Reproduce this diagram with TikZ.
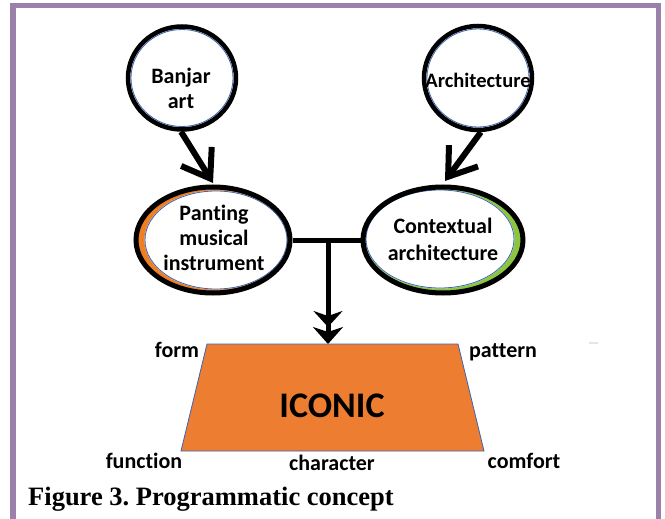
\documentclass[tikz,border=0pt]{standalone}
\usepackage{fontspec}
\setmainfont{Carlito}[Ligatures=NoCommon]
\newfontfamily\capfont{Liberation Serif}
\usetikzlibrary{shapes.geometric,arrows.meta,calc}
\definecolor{framepurple}{HTML}{9B80A9}
\definecolor{iconorange}{HTML}{ED7D31}
\definecolor{ringorange}{HTML}{F07F22}
\definecolor{ringgreen}{HTML}{8CC63F}
\definecolor{thinblue}{HTML}{3A64B4}
\frenchspacing
\begin{document}
\begin{tikzpicture}[x=1pt,y=-1pt,
  circ/.style={ellipse,draw=black,line width=4.5pt,inner sep=0pt},
  txt/.style={font=\fontsize{22}{25}\selectfont\bfseries,align=center,inner sep=0pt},
  lbl/.style={font=\fontsize{22}{25}\selectfont\bfseries,inner sep=0pt,anchor=base},
  conn/.style={line width=5pt,black},
  barb/.style={line width=6pt,-{Straight Barb[length=26pt,width=36pt]}},
  bigtip/.style={-{Stealth[length=16pt,width=29pt,inset=5pt]Stealth[length=17pt,width=30pt,inset=5pt]}}]
\useasboundingbox (0,0) rectangle (665,519);
\fill[white] (0,0) rectangle (665,519);
% frame
\draw[framepurple,line width=5.5pt] (13,519) -- (13,5.5) -- (658.5,5.5) -- (658.5,519);
\draw[gray!20,line width=1.5pt] (589,343) -- (598,343);

% Banjar art
\coordinate (bc) at (182,78);
\fill[white] (bc) ellipse (54 and 51.5);
\draw[thinblue,line width=0.8pt] (bc) ellipse (51 and 48.5);
\node[circ,minimum width=108pt,minimum height=103pt] (banjar) at (bc) {};
\node[txt] (banjartxt) at (181,88) {Banjar\\art};

% Architecture
\coordinate (ac) at (478,78);
\fill[white] (ac) ellipse (54 and 52);
\draw[thinblue,line width=0.8pt] (ac) ellipse (51 and 49);
\node[circ,minimum width=108pt,minimum height=104pt] (arch) at (ac) {};
\node[txt,font=\fontsize{20.5}{24}\selectfont\bfseries,anchor=base] (archtxt) at (478,88) {Architecture};

% Panting musical instrument
\coordinate (pc) at (213,240);
\fill[ringorange] (pc) ellipse (77 and 53);
\fill[white] ($(pc)+(3,0)$) ellipse (71.5 and 49.5);
\draw[thinblue,line width=0.8pt] ($(pc)+(3,0)$) ellipse (71 and 49);
\node[circ,line width=5pt,minimum width=154pt,minimum height=106pt] (paint) at (pc) {};
\node[txt] (painttxt) at (214,237.5) {Panting\\musical\\instrument};

% Contextual architecture
\coordinate (cc) at (443,240);
\fill[ringgreen] (cc) ellipse (80 and 53);
\fill[white] ($(cc)+(-3,-1)$) ellipse (74.5 and 49.5);
\draw[thinblue,line width=0.8pt] ($(cc)+(-3,-1)$) ellipse (74 and 49);
\node[circ,line width=5pt,minimum width=160pt,minimum height=106pt] (ctx) at (cc) {};
\node[txt,font=\fontsize{22}{27}\selectfont\bfseries] (ctxtxt) at (443,239) {Contextual\\architecture};

% arrows from top circles
\coordinate (tip1) at (213,183);
\coordinate (tip2) at (445,181);
\draw[barb] (banjar.269) -- (tip1);
\draw[barb] (arch.273) -- (tip2);

% connector
\draw[conn] (paint.east) -- (ctx.west);
\coordinate (j) at (328,240);
\coordinate (ttop) at (328,344);
\draw[conn,bigtip] (j) -- (ttop);

% trapezoid
\coordinate (tl) at (207,344);
\coordinate (tr) at (458,344);
\coordinate (br) at (484,451);
\coordinate (bl) at (181,451);
\filldraw[fill=iconorange,draw=thinblue,line width=0.8pt] (tl) -- (tr) -- (br) -- (bl) -- cycle;
\node[inner sep=0pt,anchor=base,font=\fontsize{36}{40}\selectfont\bfseries] (iconic) at (332,417) {ICONIC};

% labels
\node[lbl] (form) at (177,357) {form};
\node[lbl] (pattern) at (503,357) {pattern};
\node[lbl] (function) at (144,468) {function};
\node[lbl] (character) at (332,470) {character};
\node[lbl] (comfort) at (524,468) {comfort};

% caption
\node[inner sep=0pt,anchor=base west,font=\capfont\fontsize{26.5}{29}\selectfont\bfseries] (caption) at (28,505) {Figure 3. Programmatic concept};
\end{tikzpicture}
\end{document}
